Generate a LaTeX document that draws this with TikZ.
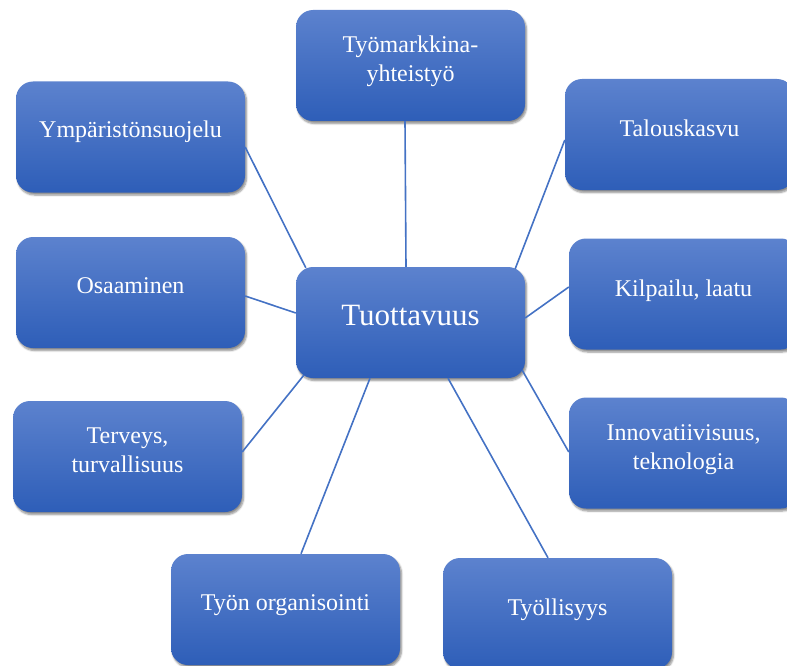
\documentclass[tikz,border=0pt]{standalone}
\usepackage{fontspec}
\setmainfont{Liberation Serif}
\newfontfamily\boxfont{Liberation Serif}
\usetikzlibrary{calc,shadows.blur}
\definecolor{boxtop}{RGB}{92,130,206}
\definecolor{boxbot}{RGB}{46,94,184}
\definecolor{linkc}{RGB}{68,114,196}
\newcommand\twoln[2]{\vtop{\halign{\hfil##\hfil\cr#1\cr#2\cr}}}
\tikzset{
 bx/.style={rounded corners=17pt, minimum width=229pt, minimum height=111pt, inner sep=0pt,
   top color=boxtop, bottom color=boxbot, draw=none,
   blur shadow={shadow xshift=1.5pt, shadow yshift=-2.5pt, shadow blur steps=6, shadow opacity=45}},
 lbl/.style={text=white, font=\boxfont\fontsize{24}{29}\selectfont, inner sep=0pt, anchor=base},
 biglbl/.style={lbl, font=\boxfont\fontsize{31}{36}\selectfont},
 link/.style={draw=linkc, line width=1.6pt},
}
\begin{document}
\begin{tikzpicture}[x=1pt,y=-1pt]
\useasboundingbox (0,0) rectangle (787,666);
\clip (0,0) rectangle (787,666);
% boxes
\node[bx] (C) at (410.5,322.5) {};
\node[bx] (T) at (410.5,65.5) {};
\node[bx] (Y) at (130.5,137) {};
\node[bx] (O) at (130.5,292.5) {};
\node[bx] (H) at (127.5,456.5) {};
\node[bx] (W) at (285.5,609.5) {};
\node[bx] (E) at (557.5,613.5) {};
\node[bx] (K) at (679.5,134.5) {};
\node[bx] (L) at (683.5,294) {};
\node[bx] (I) at (683.5,453) {};
% labels
\node[biglbl] (tC) at ($(C.center)+(0,2.5)$) {Tuottavuus};
\node[lbl] (tT) at ($(T.center)+(0,-12.5)$) {\twoln{Työmarkkina-}{yhteistyö}};
\node[lbl] (tY) at ($(Y.center)+(0,1)$) {Ympäristönsuojelu};
\node[lbl] (tO) at ($(O.center)+(0,0.5)$) {Osaaminen};
\node[lbl] (tH) at ($(H.center)+(0,-13.5)$) {\twoln{Terveys,}{turvallisuus}};
\node[lbl] (tW) at ($(W.center)+(0,0.5)$) {Työn organisointi};
\node[lbl] (tE) at ($(E.center)+(0,1.5)$) {Työllisyys};
\node[lbl] (tK) at ($(K.center)+(0,2.5)$) {Talouskasvu};
\node[lbl] (tL) at ($(L.center)+(0,2)$) {Kilpailu, laatu};
\node[lbl] (tI) at ($(I.center)+(0,-13)$) {\twoln{Innovatiivisuus,}{teknologia}};
% connectors
\draw[link] ($(T.south)+(-5.5,0)$) -- ($(C.north)+(-4.5,0)$);
\draw[link] ($(Y.east)+(0,10)$) -- ($(C.north west)+(10,1)$);
\draw[link] ($(K.west)+(0,5.5)$) -- ($(C.north east)+(-10,2)$);
\draw[link] ($(O.east)+(0,3.5)$) -- ($(C.west)+(0,-9.5)$);
\draw[link] ($(L.west)+(0,-7)$) -- ($(C.east)+(0,-4.5)$);
\draw[link] ($(H.east)+(0,-4.5)$) -- ($(C.south west)+(8,-3)$);
\draw[link] ($(W.north)+(15.5,0)$) -- ($(C.south)+(-40.5,0)$);
\draw[link] ($(E.north)+(-9.5,0)$) -- ($(C.south)+(37.5,0)$);
\draw[link] ($(I.west)+(0,-1)$) -- ($(C.south east)+(-3,-8)$);
\end{tikzpicture}
\end{document}
